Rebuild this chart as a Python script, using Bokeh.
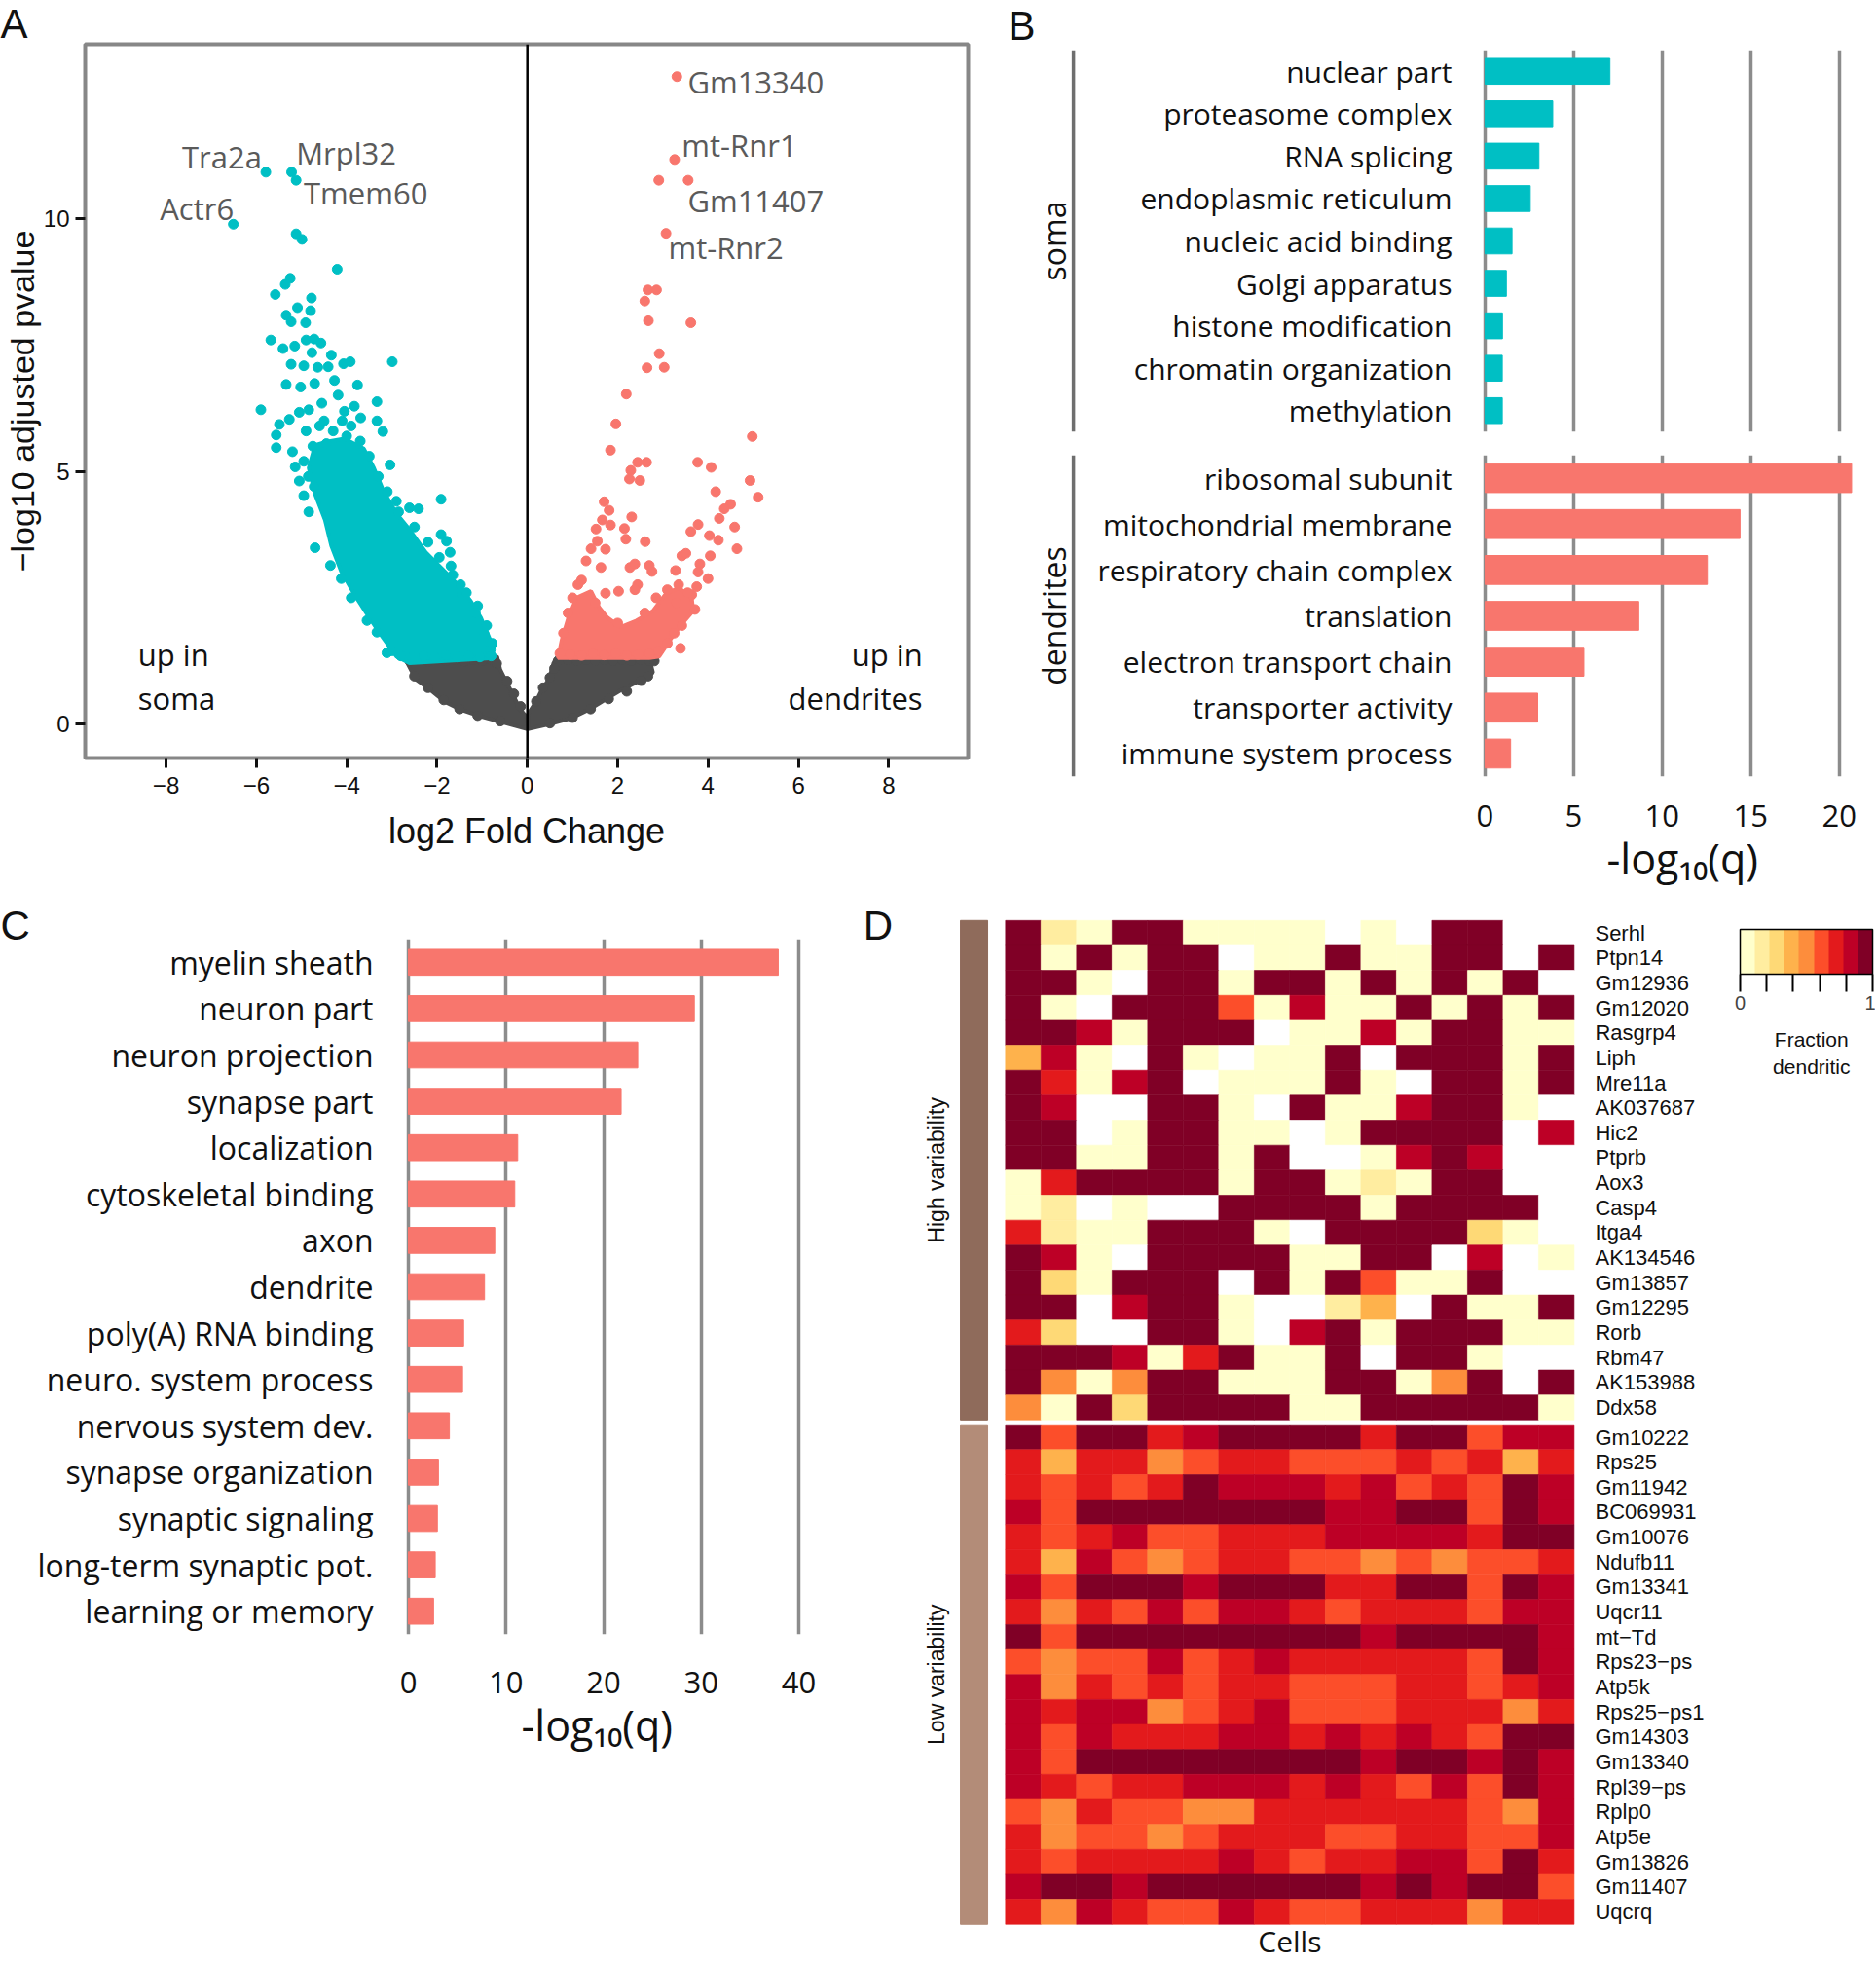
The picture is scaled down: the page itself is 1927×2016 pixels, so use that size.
import math
import numpy as np
from bokeh.plotting import figure
from bokeh.layouts import row, column
from bokeh.models import (Range1d, FactorRange, Span, Title, FixedTicker, Grid,
                          ColumnDataSource, LinearColorMapper, ColorBar)
from bokeh.embed import file_html
from bokeh.resources import INLINE
from bokeh.core.properties import value
from bokeh.palettes import YlOrRd9
from bokeh.transform import transform

# ------------------------------------------------------------------ data
# Panel A (volcano): points (log2 FC, -log10 padj)
up_soma_pts = [
    (-5.79, 10.92), (-5.22, 10.92), (-5.12, 10.76), (-6.51, 9.89), (-5.12, 9.70), (-4.99, 9.59),
    (-4.21, 9.00), (-5.25, 8.82), (-5.36, 8.70), (-5.58, 8.50), (-4.78, 8.43), (-5.09, 8.24), (-4.80, 8.18),
    (-5.34, 8.09), (-5.23, 7.96), (-4.91, 7.94), (-5.68, 7.60), (-5.41, 7.43), (-5.15, 7.48), (-4.90, 7.60),
    (-4.72, 7.62), (-4.57, 7.54), (-4.77, 7.35), (-4.34, 7.30), (-4.07, 7.13), (-3.92, 7.17), (-2.99, 7.17),
    (-5.23, 7.12), (-4.95, 7.09), (-4.64, 7.06), (-4.41, 7.07), (-5.34, 6.72), (-5.02, 6.67), (-4.71, 6.74),
    (-4.27, 6.80), (-3.76, 6.71), (-5.90, 6.22), (-3.33, 6.38), (-5.49, 5.93), (-5.56, 5.72), (-5.56, 5.47),
    (-5.05, 6.17), (-4.84, 6.22), (-4.55, 6.35), (-4.19, 6.51), (-4.05, 6.19), (-3.83, 6.29), (-3.69, 6.06),
    (-3.33, 6.00), (-3.20, 5.79), (-5.27, 6.03), (-5.20, 5.39), (-5.14, 5.09), (-5.05, 4.81), (-4.95, 4.52),
    (-4.84, 4.20), (-4.70, 3.49), (-4.36, 3.14), (-4.12, 2.88), (-3.90, 2.50), (-3.55, 2.05), (-3.33, 1.82),
    (-3.11, 1.41), (-3.04, 5.13), (-2.90, 4.41), (-2.61, 4.28), (-2.41, 4.26), (-1.91, 4.45), (-1.91, 3.75),
    (-1.79, 3.62), (-1.71, 3.40), (-1.69, 3.13), (-1.48, 2.76), (-1.46, 2.56), (-1.10, 2.34), (-0.96, 1.79),
    (-0.82, 1.47), (-4.60, 5.90), (-4.30, 5.80), (-4.00, 5.70), (-3.70, 5.60), (-4.50, 6.00), (-4.90, 5.80),
    (-4.75, 5.50), (-4.45, 5.55), (-3.90, 5.90), (-4.10, 6.00), (-4.95, 5.20), (-4.85, 4.90), (-4.72, 4.70),
    (-3.50, 5.30), (-3.30, 4.90), (-3.10, 4.60), (-2.85, 4.20), (-2.50, 3.90), (-2.20, 3.60), (-1.95, 3.30),
    (-1.65, 2.95), (-1.35, 2.60), (-1.15, 2.20), (-0.90, 1.95), (-0.78, 1.60), (-2.55, 1.32), (-2.30, 1.35),
    (-2.05, 1.33), (-1.80, 1.36), (-1.55, 1.33), (-1.30, 1.35), (-1.05, 1.33), (-0.80, 1.35), (-3.00, 1.45),
    (-2.80, 1.35),
]
up_soma_core = [
    (-4.70, 5.52), (-4.84, 5.07), (-4.70, 4.55), (-4.48, 4.04), (-4.34, 3.53), (-4.12, 3.02), (-3.83, 2.57),
    (-3.55, 2.18), (-3.26, 1.79), (-2.90, 1.34), (-2.61, 1.21), (-0.74, 1.31), (-0.82, 1.66), (-1.03, 2.11),
    (-1.25, 2.43), (-1.53, 2.75), (-1.89, 3.08), (-2.25, 3.40), (-2.61, 3.85), (-2.90, 4.17), (-3.19, 4.62),
    (-3.40, 5.07), (-3.62, 5.45), (-4.05, 5.65), (-4.48, 5.58),
]
up_dend_pts = [
    (3.31, 12.81), (3.26, 11.17), (2.91, 10.76), (3.56, 10.76), (3.07, 9.71),
    (2.67, 8.59), (2.86, 8.59), (2.60, 8.37), (2.68, 7.98), (3.62, 7.94), (2.92, 7.33), (2.65, 7.05), (3.03, 7.06),
    (2.19, 6.53), (1.96, 5.94), (1.84, 5.42), (4.98, 5.69), (2.44, 5.18), (2.64, 5.18), (2.29, 5.02), (2.26, 4.85),
    (2.49, 4.82), (3.77, 5.18), (4.07, 5.08), (4.93, 4.82), (5.11, 4.49), (4.17, 4.60), (4.50, 4.35), (4.36, 4.26),
    (4.25, 4.07), (3.78, 3.95), (3.62, 3.81), (4.59, 3.90), (4.64, 3.47), (4.03, 3.73), (4.23, 3.64), (4.05, 3.33),
    (4.00, 2.88), (3.75, 2.72), (3.82, 3.17), (3.78, 3.01), (3.39, 1.50), (1.70, 4.40), (1.81, 4.23), (1.66, 4.04),
    (1.52, 3.86), (1.84, 3.94), (2.31, 4.10), (2.15, 3.87), (2.18, 3.66), (2.61, 3.61), (1.55, 3.62), (1.73, 3.46),
    (1.41, 3.47), (1.30, 3.23), (1.63, 3.10), (2.70, 3.14), (2.76, 3.02), (2.27, 3.10), (2.38, 3.17), (3.28, 3.04),
    (3.42, 3.33), (3.51, 3.38), (1.20, 2.85), (1.12, 2.76), (1.73, 2.59), (2.02, 2.63), (2.44, 2.76), (2.38, 2.66),
    (2.85, 2.50), (3.10, 2.66), (3.35, 2.76), (3.64, 2.56), (3.71, 2.27), (3.42, 1.95), (0.72, 1.40), (0.95, 1.38),
    (1.20, 1.36), (1.45, 1.40), (1.70, 1.37), (1.95, 1.40), (2.20, 1.36), (2.45, 1.38), (2.70, 1.40), (2.90, 1.45),
    (3.10, 1.60), (3.25, 1.80), (0.80, 1.80), (0.90, 2.20), (1.00, 2.50), (1.50, 2.40), (2.00, 2.00), (2.60, 2.20),
    (3.30, 2.40), (3.55, 2.60),
]
up_dend_core = [
    (0.68, 1.31), (0.76, 1.66), (0.91, 2.11), (1.09, 2.50), (1.41, 2.63), (1.59, 2.31), (1.77, 2.11), (2.06, 1.92),
    (2.42, 2.05), (2.78, 2.24), (3.06, 2.57), (3.35, 2.70), (3.64, 2.50), (3.67, 2.24), (3.42, 1.98), (3.21, 1.73),
    (3.06, 1.53), (2.92, 1.34), (2.70, 1.31),
]
ns_pts = [
    (-2.60, 1.25), (-2.40, 1.27), (-2.20, 1.24), (-2.00, 1.27), (-1.80, 1.25), (-1.60, 1.27), (-1.40, 1.24),
    (-1.20, 1.27), (-1.00, 1.25), (-0.80, 1.27), (-0.68, 1.20), (-2.50, 0.95), (-2.20, 0.72), (-1.85, 0.48),
    (-1.50, 0.30), (-1.10, 0.17), (-0.60, 0.06), (-0.45, 0.85), (-0.30, 0.60), (-0.15, 0.35),
    (0.68, 1.25), (0.90, 1.27), (1.10, 1.25), (1.30, 1.27), (1.50, 1.25), (1.70, 1.27), (1.90, 1.25), (2.10, 1.27),
    (2.30, 1.25), (2.50, 1.27), (2.70, 1.25), (2.81, 1.25), (2.67, 0.95), (2.52, 0.86), (0.20, 0.45), (0.35, 0.72),
    (0.50, 0.92), (0.60, 1.10), (2.20, 0.65), (1.80, 0.50), (1.40, 0.30), (1.00, 0.13), (0.50, 0.02),
]
ns_core_left = [
    (-2.68, 1.25), (-2.47, 0.89), (-2.18, 0.70), (-1.82, 0.44), (-1.46, 0.28), (-1.03, 0.15), (-0.53, 0.03),
    (0.0, -0.10), (0.0, 0.12), (-0.17, 0.31), (-0.31, 0.57), (-0.46, 0.83), (-0.60, 1.08), (-0.67, 1.34),
]
ns_core_right = [
    (0.01, -0.10), (0.01, 0.19), (0.19, 0.44), (0.33, 0.70), (0.48, 0.89), (0.58, 1.21), (0.66, 1.31), (2.70, 1.31),
    (2.78, 1.02), (2.42, 0.83), (2.13, 0.70), (1.77, 0.51), (1.41, 0.31), (0.98, 0.12), (0.48, 0.0),
]
labelled_genes = ["Gm13340", "mt-Rnr1", "Gm11407", "mt-Rnr2", "Tra2a", "Mrpl32", "Tmem60", "Actr6"]

# Panel B (GO terms, -log10 q)
soma_terms = ["nuclear part", "proteasome complex", "RNA splicing", "endoplasmic reticulum",
              "nucleic acid binding", "Golgi apparatus", "histone modification",
              "chromatin organization", "methylation"]
soma_q = [7.05, 3.82, 3.04, 2.55, 1.52, 1.20, 0.98, 0.97, 0.97]
dend_terms = ["ribosomal subunit", "mitochondrial membrane", "respiratory chain complex", "translation",
              "electron transport chain", "transporter activity", "immune system process"]
dend_q = [20.7, 14.4, 12.55, 8.68, 5.58, 2.97, 1.44]
b_ticks = [0, 5, 10, 15, 20]

# Panel C
c_terms = ["myelin sheath", "neuron part", "neuron projection", "synapse part", "localization",
           "cytoskeletal binding", "axon", "dendrite", "poly(A) RNA binding", "neuro. system process",
           "nervous system dev.", "synapse organization", "synaptic signaling",
           "long-term synaptic pot.", "learning or memory"]
c_q = [37.9, 29.3, 23.5, 21.8, 11.2, 10.9, 8.85, 7.8, 5.66, 5.55, 4.2, 3.08, 2.97, 2.75, 2.58]
c_ticks = [0, 10, 20, 30, 40]

# Panel D (fraction dendritic, colour bin 0..8 per cell, "." = empty)
high_genes = ["Serhl", "Ptpn14", "Gm12936", "Gm12020", "Rasgrp4", "Liph", "Mre11a", "AK037687", "Hic2",
              "Ptprb", "Aox3", "Casp4", "Itga4", "AK134546", "Gm13857", "Gm12295", "Rorb", "Rbm47",
              "AK153988", "Ddx58"]
low_genes = ["Gm10222", "Rps25", "Gm11942", "BC069931", "Gm10076", "Ndufb11", "Gm13341", "Uqcr11", "mt−Td",
             "Rps23−ps", "Atp5k", "Rps25−ps1", "Gm14303", "Gm13340", "Rpl39−ps", "Rplp0", "Atp5e",
             "Gm13826", "Gm11407", "Uqcrq"]
high_bins = [
    "8 1 0 8 8 0 0 0 0 . 0 . 8 8 . .",
    "8 0 8 0 8 8 . 0 0 8 0 0 8 8 . 8",
    "8 8 0 . 8 8 0 8 8 0 8 0 8 0 8 .",
    "8 0 . 8 8 8 5 0 7 0 0 8 0 8 0 8",
    "8 8 7 0 8 8 8 . 0 0 7 0 8 8 0 0",
    "3 7 0 . 8 0 . 0 0 8 . 8 8 8 0 8",
    "8 6 0 7 8 . 0 0 0 8 0 . 8 8 0 8",
    "8 7 . . 8 8 0 . 8 0 0 7 8 8 0 .",
    "8 8 . 0 8 8 0 0 . 0 8 8 8 8 . 7",
    "8 8 0 0 8 8 0 8 . . 0 7 8 7 . .",
    "0 6 8 8 8 8 0 8 8 0 1 0 8 8 . .",
    "0 1 . 0 . . 8 8 8 8 0 8 8 8 8 .",
    "6 1 0 0 8 8 8 0 . 8 8 8 8 2 0 .",
    "8 7 0 . 8 8 8 8 0 0 8 8 . 7 . 0",
    "8 2 0 8 8 8 . 8 0 8 5 0 0 8 . .",
    "8 8 . 7 8 8 0 . . 1 3 . 8 0 0 8",
    "6 2 . . 8 8 0 . 7 8 0 8 8 8 0 0",
    "8 8 8 7 0 6 8 0 0 8 . 8 8 0 . .",
    "8 4 0 4 8 8 0 0 0 8 8 0 4 8 . 8",
    "4 0 8 2 8 8 8 8 0 0 8 8 8 8 8 0",
]
low_bins = [
    "8 5 8 8 6 7 8 8 8 8 6 8 8 5 7 7",
    "6 3 6 6 4 5 6 6 5 5 5 6 5 6 3 6",
    "6 5 6 5 6 8 7 7 7 6 7 5 6 5 8 7",
    "7 5 8 8 8 8 8 8 8 7 7 8 8 5 8 7",
    "6 5 6 7 5 5 6 6 6 7 7 7 7 6 8 8",
    "6 3 7 5 4 5 6 6 5 5 4 5 4 5 5 6",
    "7 5 8 8 8 7 8 8 8 6 6 8 8 5 8 7",
    "6 4 6 5 7 5 7 7 6 5 6 6 6 5 7 7",
    "8 5 8 8 8 8 8 8 8 8 7 8 8 8 8 7",
    "5 4 5 5 7 5 6 7 6 6 6 6 6 5 8 7",
    "7 4 6 5 6 5 6 6 5 5 5 6 6 5 6 7",
    "7 6 7 7 4 5 6 7 5 5 5 6 6 6 4 6",
    "7 5 7 6 6 6 7 7 6 7 6 7 6 5 8 8",
    "7 5 8 8 8 8 8 8 8 8 7 8 8 7 8 7",
    "7 6 5 6 6 7 7 7 6 7 6 5 7 5 8 7",
    "5 4 6 5 5 4 4 6 6 6 6 6 6 5 4 7",
    "6 4 5 5 4 5 6 6 6 5 5 6 6 5 5 7",
    "6 5 6 6 6 6 7 6 5 6 6 7 7 5 8 6",
    "7 8 8 7 8 8 8 8 8 8 7 8 7 8 8 5",
    "6 4 7 6 5 5 7 6 5 5 6 6 6 4 6 6",
]
group_names = ["High variability", "Low variability"]
legend_ticks = [0.0, 0.2, 0.4, 0.6, 0.8, 1.0]

# ------------------------------------------------------------------ styles
TEAL = "#00BFC4"
SALMON = "#F8766D"
NSGRAY = "#4D4D4D"
GRIDC = "#8C8C8C"
HUM = "Open Sans"
SANS = "Liberation Sans"
INK = "#111111"


def xy(pts):
    return [p[0] for p in pts], [p[1] for p in pts]


def base_fig(**kw):
    return figure(toolbar_location=None, output_backend="svg", **kw)


def letter(p, text, size, offset, standoff):
    p.title.text = text
    p.title.align = "left"
    p.title.offset = offset
    p.title.standoff = standoff
    p.title.vertical_align = "top"
    p.title.text_font = SANS
    p.title.text_font_size = size
    p.title.text_font_style = "normal"
    p.title.text_color = INK


# ------------------------------------------------------------------ Panel A
pA = base_fig(width=1035, height=926, x_range=Range1d(-9.79, 9.76), y_range=Range1d(-0.67, 13.45),
              min_border_left=87, min_border_right=41, min_border_top=45, min_border_bottom=148)
letter(pA, "A", "42px", -87, -8)
pA.grid.grid_line_color = None
pA.outline_line_color = "#878787"
pA.outline_line_width = 4
for ax in (pA.xaxis[0], pA.yaxis[0]):
    ax.axis_line_color = None
    ax.major_tick_in = 0
    ax.major_tick_out = 10
    ax.major_tick_line_color = INK
    ax.major_tick_line_width = 3
    ax.minor_tick_line_color = None
    ax.major_label_text_font = SANS
    ax.major_label_text_font_size = "24px"
    ax.major_label_text_color = INK
    ax.axis_label_text_font = SANS
    ax.axis_label_text_font_style = "normal"
    ax.axis_label_text_color = INK
pA.xaxis.ticker = FixedTicker(ticks=[-8, -6, -4, -2, 0, 2, 4, 6, 8])
pA.xaxis.major_label_overrides = {-8: "−8", -6: "−6", -4: "−4", -2: "−2"}
pA.xaxis.major_label_standoff = 9
pA.xaxis.axis_label_standoff = 15
pA.xaxis.axis_label = "log2 Fold Change"
pA.xaxis.axis_label_text_font_size = "36px"
pA.yaxis.ticker = FixedTicker(ticks=[0, 5, 10])
pA.yaxis.major_label_standoff = 6
pA.yaxis.axis_label_standoff = 0
pA.yaxis.axis_label = "−log10 adjusted pvalue"
pA.yaxis.axis_label_text_font_size = "34px"

for core in (ns_core_left, ns_core_right):
    cx, cy = xy(core)
    pA.patch(cx, cy, fill_color=NSGRAY, line_color=NSGRAY, line_width=4)
nx, ny = xy(ns_pts)
pA.scatter(nx, ny, size=10, color=NSGRAY)
cx, cy = xy(up_soma_core)
pA.patch(cx, cy, fill_color=TEAL, line_color=TEAL, line_width=4)
sx, sy = xy(up_soma_pts)
pA.scatter(sx, sy, size=10, color=TEAL)
cx, cy = xy(up_dend_core)
pA.patch(cx, cy, fill_color=SALMON, line_color=SALMON, line_width=4)
dx, dy = xy(up_dend_pts)
pA.scatter(dx, dy, size=10, color=SALMON)
pA.add_layout(Span(location=0, dimension="height", line_color="black", line_width=2.5))

gene_style = dict(text_baseline="middle", text_font=value(HUM), text_font_size="31px", text_color="#5A5A5A")
pA.text(x=[3.55, 3.42, 3.55, 3.12], y=[12.7, 11.46, 10.35, 9.44], text=labelled_genes[:4],
        text_align="left", **gene_style)
pA.text(x=[-5.88, -6.50], y=[11.22, 10.21], text=[labelled_genes[4], labelled_genes[7]],
        text_align="right", **gene_style)
pA.text(x=[-5.12, -4.95], y=[11.31, 10.51], text=[labelled_genes[5], labelled_genes[6]],
        text_align="left", **gene_style)
pA.text(x=-8.62, y=[1.39, 0.52], text=["up in", "soma"], text_align="left", text_baseline="middle",
        text_font=value(HUM), text_font_size="31px", text_color=INK)
pA.text(x=8.75, y=[1.39, 0.52], text=["up in", "dendrites"], text_align="right", text_baseline="middle",
        text_font=value(HUM), text_font_size="31px", text_color=INK)

# ------------------------------------------------------------------ Panel B
xrB = Range1d(-26.94, 22.05)


def panel_b(terms, vals, color, group, mid_term, height, top, bottom, bar_h, show_axis):
    p = base_fig(width=891, height=height, x_range=xrB, y_range=FactorRange(factors=terms[::-1]),
                 x_axis_location=("below" if show_axis else None), y_axis_location=None,
                 min_border_left=0, min_border_right=0, min_border_top=top, min_border_bottom=bottom)
    p.outline_line_color = None
    p.grid.grid_line_color = None
    p.add_layout(Grid(dimension=0, ticker=FixedTicker(ticks=b_ticks), grid_line_color=GRIDC,
                      grid_line_width=3.5))
    p.hbar(y=terms, left=0, right=vals, height=bar_h, color=color)
    p.text(x=-1.87, y=terms, text=terms, text_align="right", text_baseline="middle",
           text_font=value(HUM), text_font_size="30px", text_color=INK)
    p.add_layout(Span(location=-23.25, dimension="height", line_color="#6E6E6E", line_width=3.5))
    p.text(x=-24.35, y=[mid_term], text=[group], angle=math.pi / 2, text_align="center",
           text_baseline="middle", text_font=value(HUM), text_font_size="32px", text_color=INK)
    if show_axis:
        ax = p.xaxis[0]
        ax.ticker = FixedTicker(ticks=b_ticks)
        ax.axis_line_color = None
        ax.major_tick_line_color = None
        ax.minor_tick_line_color = None
        ax.major_tick_in = 0
        ax.major_tick_out = 0
        ax.major_label_standoff = 29
        ax.major_label_text_font = HUM
        ax.major_label_text_font_size = "31px"
        ax.major_label_text_color = INK
    return p


pB1 = panel_b(soma_terms, soma_q, TEAL, "soma", "nucleic acid binding", 459, 51, 16, 0.61, False)
letter(pB1, "B", "42px", 0, 0)
pB2 = panel_b(dend_terms, dend_q, SALMON, "dendrites", "translation", 467, 8, 129, 0.63, True)
pB2.add_layout(Title(text="-log₁₀(q)", align="left", offset=615, standoff=0, vertical_align="top",
                     text_font=HUM, text_font_size="43px", text_font_style="normal", text_color=INK),
               "below")

# ------------------------------------------------------------------ Panel C
pC = base_fig(width=884, height=1089, x_range=Range1d(-0.3, 40.3), y_range=FactorRange(factors=c_terms[::-1]),
              min_border_left=416, min_border_right=61, min_border_top=38, min_border_bottom=337)
letter(pC, "C", "42px", -416, -22)
pC.outline_line_color = None
pC.grid.grid_line_color = None
pC.add_layout(Grid(dimension=0, ticker=FixedTicker(ticks=c_ticks), grid_line_color=GRIDC, grid_line_width=3.5))
pC.hbar(y=c_terms, left=0, right=c_q, height=0.56, color=SALMON)
for ax in (pC.xaxis[0], pC.yaxis[0]):
    ax.axis_line_color = None
    ax.major_tick_line_color = None
    ax.minor_tick_line_color = None
    ax.major_tick_in = 0
    ax.major_tick_out = 0
    ax.major_label_text_font = HUM
    ax.major_label_text_color = INK
pC.xaxis.ticker = FixedTicker(ticks=c_ticks)
pC.xaxis.major_label_text_font_size = "31px"
pC.xaxis.major_label_standoff = 38
pC.yaxis.major_label_text_font_size = "32px"
pC.yaxis.major_label_standoff = 33
pC.add_layout(Title(text="-log₁₀(q)", align="left", offset=119, standoff=0, vertical_align="top",
                    text_font=HUM, text_font_size="43px", text_font_style="normal", text_color=INK),
              "below")

# ------------------------------------------------------------------ Panel D
pD = base_fig(width=1042, height=1089, x_range=Range1d(-4.063, 24.48), y_range=Range1d(41.72, -0.733),
              x_axis_location=None, y_axis_location=None, min_border=0)
pD.outline_line_color = None
pD.grid.grid_line_color = None

mapper = LinearColorMapper(palette=list(reversed(YlOrRd9)), low=0, high=1, nan_color="white")
GAP = 0.19
cx_, cy_, cv_ = [], [], []
row_y = []
for gi, bins in enumerate((high_bins, low_bins)):
    for r, s in enumerate(bins):
        yy = gi * (20 + GAP) + r + 0.5
        row_y.append(yy)
        for c, t in enumerate(s.split()):
            cx_.append(c + 0.5)
            cy_.append(yy)
            cv_.append(np.nan if t == "." else (int(t) + 0.5) / 9.0)
src = ColumnDataSource(dict(x=np.array(cx_), y=np.array(cy_), v=np.array(cv_)))
pD.rect(x="x", y="y", width=1, height=1, source=src, fill_color=transform("v", mapper),
        line_color=transform("v", mapper), line_width=0.6)
pD.quad(left=-1.268, right=-0.501, top=[0, 20 + GAP], bottom=[20, 40 + GAP],
        color=["#8F6B5B", "#B38C78"])
pD.text(x=-1.94, y=[10, 30 + GAP], text=group_names, angle=math.pi / 2, text_align="center",
        text_baseline="middle", text_font=value(SANS), text_font_size="23px", text_color=INK)
pD.text(x=16.59, y=row_y, text=high_genes + low_genes, text_align="left", text_baseline="middle",
        text_font=value(SANS), text_font_size="22px", text_color=INK)
pD.text(x=8.0, y=[40.85], text=["Cells"], text_align="center", text_baseline="middle",
        text_font=value(HUM), text_font_size="30px", text_color=INK)
pD.text(x=22.68, y=[4.76, 5.86], text=["Fraction", "dendritic"], text_align="center",
        text_baseline="middle", text_font=value(SANS), text_font_size="21px", text_color=INK)
pD.text(x=-4.0, y=[-0.72], text=["D"], text_align="left", text_baseline="top",
        text_font=value(SANS), text_font_size="42px", text_color=INK)
cb = ColorBar(color_mapper=mapper, orientation="horizontal", width=136, height=46, location=(903, 976),
              padding=0, margin=0, ticker=FixedTicker(ticks=legend_ticks),
              major_label_overrides={0.0: "0", 0.2: "", 0.4: "", 0.6: "", 0.8: "", 1.0: "1"},
              major_tick_in=0, major_tick_out=18, major_tick_line_color="black", major_tick_line_width=2,
              minor_tick_line_color=None, bar_line_color="black", bar_line_width=1.5,
              major_label_text_font=SANS, major_label_text_font_size="20px", label_standoff=4,
              background_fill_color=None, border_line_color=None)
pD.add_layout(cb)

layout = column(row(pA, column(pB1, pB2)), row(column(pC), column(pD)))
open("out.html", "w").write(file_html(layout, INLINE))
